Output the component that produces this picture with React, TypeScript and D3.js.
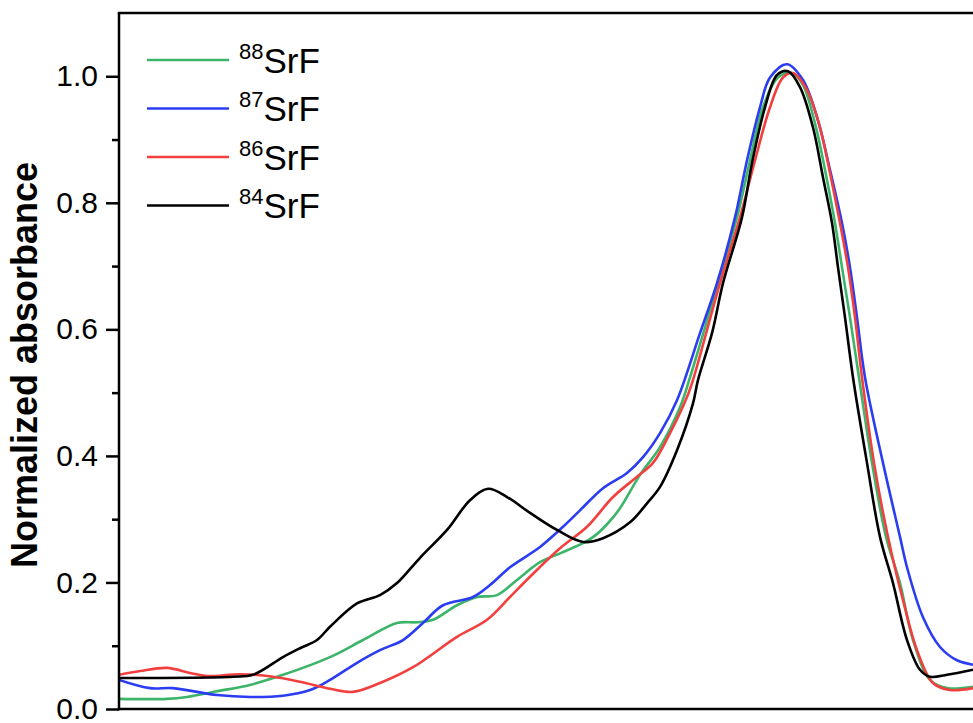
import React, { useRef, useEffect } from "react";
import * as d3 from "d3";

// x: arbitrary detuning units (axis is cut off in the figure), y: normalized absorbance
const sr88: [number, number][] = [
  [0, 0.016], [4.8, 0.016], [6.8, 0.019], [9.8, 0.028], [13.1, 0.038], [16.4, 0.054],
  [21.1, 0.082], [24.4, 0.109], [27.8, 0.136], [29.8, 0.137], [31.4, 0.141], [33.8, 0.164],
  [35.8, 0.177], [37.8, 0.18], [39.8, 0.204], [42.1, 0.232], [44.1, 0.246], [46.4, 0.262],
  [47.6, 0.274], [48.8, 0.292], [50.0, 0.315], [52.1, 0.37], [54.1, 0.414], [56.1, 0.477],
  [57.1, 0.524], [59.9, 0.673], [61.8, 0.777], [63.1, 0.867], [64.4, 0.951], [65.9, 0.998],
  [67.3, 1.005], [68.4, 0.986], [69.7, 0.919], [70.7, 0.844], [71.6, 0.768], [72.3, 0.698],
  [73.1, 0.619], [74.0, 0.524], [75.3, 0.389], [76.7, 0.272], [78.1, 0.199], [79.4, 0.109],
  [81.1, 0.046], [82.8, 0.033], [85.4, 0.035],
];

const sr87: [number, number][] = [
  [0, 0.046], [3.1, 0.033], [5.4, 0.033], [9.8, 0.022], [13.1, 0.019], [16.4, 0.021],
  [19.1, 0.03], [21.1, 0.046], [23.8, 0.073], [26.1, 0.093], [28.4, 0.109], [30.4, 0.136],
  [32.4, 0.164], [35.4, 0.177], [37.1, 0.196], [39.1, 0.224], [42.1, 0.256], [44.4, 0.288],
  [46.1, 0.314], [48.4, 0.349], [50.8, 0.373], [52.4, 0.398], [54.1, 0.436], [55.8, 0.488],
  [58.1, 0.594], [59.8, 0.673], [61.6, 0.777], [62.8, 0.867], [64.1, 0.951], [65.1, 0.998],
  [66.8, 1.019], [68.4, 0.994], [69.9, 0.93], [71.1, 0.852], [72.3, 0.768], [73.1, 0.698],
  [73.8, 0.619], [74.6, 0.524], [76.4, 0.389], [78.1, 0.272], [78.8, 0.224], [80.4, 0.145],
  [82.1, 0.098], [83.8, 0.077], [85.4, 0.07],
];

const sr86: [number, number][] = [
  [0, 0.054], [2.1, 0.06], [4.8, 0.065], [7.1, 0.057], [8.8, 0.052], [12.1, 0.055],
  [15.4, 0.051], [18.1, 0.043], [21.1, 0.032], [23.4, 0.027], [26.1, 0.041], [29.4, 0.066],
  [33.8, 0.114], [36.8, 0.141], [39.1, 0.177], [41.1, 0.209], [44.1, 0.254], [46.8, 0.288],
  [49.4, 0.335], [51.8, 0.367], [53.4, 0.389], [55.1, 0.436], [56.8, 0.493], [57.4, 0.52],
  [60.1, 0.673], [62.1, 0.777], [63.6, 0.867], [65.1, 0.951], [66.4, 0.998], [67.4, 1.005],
  [68.8, 0.978], [70.1, 0.919], [71.1, 0.847], [72.1, 0.768], [72.9, 0.698], [73.6, 0.619],
  [74.3, 0.524], [75.5, 0.389], [76.9, 0.272], [78.4, 0.172], [79.8, 0.093], [81.4, 0.041],
  [83.1, 0.03], [85.4, 0.033],
];

const sr84: [number, number][] = [
  [0, 0.049], [11.4, 0.051], [13.4, 0.054], [16.4, 0.082], [18.1, 0.096], [19.8, 0.109],
  [21.1, 0.13], [23.8, 0.167], [26.1, 0.18], [27.8, 0.199], [30.1, 0.239], [32.8, 0.283],
  [35.1, 0.33], [36.9, 0.348], [38.8, 0.335], [41.1, 0.31], [43.8, 0.283], [46.4, 0.264],
  [48.4, 0.27], [51.1, 0.295], [52.8, 0.325], [54.1, 0.351], [55.8, 0.409], [57.4, 0.483],
  [57.9, 0.52], [59.3, 0.594], [60.4, 0.673], [62.3, 0.777], [63.3, 0.863], [64.6, 0.951],
  [65.8, 1.002], [66.9, 1.008], [68.1, 0.983], [69.4, 0.919], [70.4, 0.84], [71.3, 0.768],
  [71.9, 0.698], [72.6, 0.619], [73.4, 0.524], [74.8, 0.389], [76.1, 0.272], [77.4, 0.199],
  [78.8, 0.109], [80.1, 0.062], [81.1, 0.051], [82.8, 0.054], [85.4, 0.062],
];

const seriesNames = ["88", "87", "86", "84"];
const seriesColors = ["#3cb469", "#2b3df2", "#f2403f", "#000000"];
const seriesData = [sr88, sr87, sr86, sr84];

const majorTicks = [0, 0.2, 0.4, 0.6, 0.8, 1.0];
const minorTicks = [0.1, 0.3, 0.5, 0.7, 0.9];

const App = () => {
  const svgRef = useRef<SVGSVGElement>(null);

  useEffect(() => {
    const W = 973;
    const H = 723;
    const left = 119;
    const top = 13;
    const bottom = 709;

    const svg = d3.select(svgRef.current).attr("width", W).attr("height", H);
    svg.selectAll("*").remove();

    const xScale = d3.scaleLinear().domain([0, 88]).range([left, left + 880]);
    const yScale = d3.scaleLinear().domain([0, 1.1]).range([bottom, top]);

    svg.append("defs").append("clipPath").attr("id", "plot-clip")
      .append("rect").attr("x", left).attr("y", top).attr("width", W - left).attr("height", bottom - top);

    const line = d3.line<[number, number]>()
      .x((d) => xScale(d[0]))
      .y((d) => yScale(d[1]))
      .curve(d3.curveCatmullRom.alpha(0.5));

    const plot = svg.append("g").attr("clip-path", "url(#plot-clip)");
    seriesData.forEach((s, i) => {
      plot.append("path")
        .datum(s)
        .attr("d", line)
        .attr("fill", "none")
        .attr("stroke", seriesColors[i])
        .attr("stroke-width", 2.6)
        .attr("stroke-linejoin", "round");
    });

    // minor ticks
    svg.append("g")
      .attr("transform", `translate(${left}, 0)`)
      .call(d3.axisLeft(yScale).tickValues(minorTicks).tickSize(7).tickFormat(() => ""))
      .call((g) => g.select(".domain").remove())
      .selectAll("line").attr("stroke-width", 2.5);

    // major ticks + labels
    const yAxis = svg.append("g")
      .attr("transform", `translate(${left}, 0)`)
      .call(d3.axisLeft(yScale).tickValues(majorTicks).tickSize(13).tickPadding(8).tickFormat(d3.format(".1f")));
    yAxis.select(".domain").remove();
    yAxis.selectAll("line").attr("stroke-width", 2.5);
    yAxis.selectAll("text")
      .attr("font-family", "'Liberation Sans', Arial, sans-serif")
      .style("font-size", "30px")
      .attr("fill", "#000");

    // frame
    svg.append("line").attr("x1", left).attr("x2", left).attr("y1", top).attr("y2", bottom + 1.25)
      .attr("stroke", "#000").attr("stroke-width", 2.5);
    svg.append("line").attr("x1", left - 1.25).attr("x2", W).attr("y1", top).attr("y2", top)
      .attr("stroke", "#000").attr("stroke-width", 2.5);
    svg.append("line").attr("x1", left - 1.25).attr("x2", W).attr("y1", bottom).attr("y2", bottom)
      .attr("stroke", "#000").attr("stroke-width", 2.5);

    // y label
    svg.append("text")
      .attr("transform", `translate(37, ${(top + bottom) / 2 + 4}) rotate(-90)`)
      .attr("text-anchor", "middle")
      .attr("font-family", "'Liberation Sans', Arial, sans-serif")
      .attr("font-weight", "bold")
      .style("font-size", "36px")
      .text("Normalized absorbance");

    // legend
    const legend = svg.append("g").attr("font-family", "'Liberation Sans', Arial, sans-serif");
    seriesNames.forEach((name, i) => {
      const ly = 60 + i * 48.5;
      legend.append("line")
        .attr("x1", 147).attr("x2", 229).attr("y1", ly).attr("y2", ly)
        .attr("stroke", seriesColors[i]).attr("stroke-width", 2.6);
      const t = legend.append("text").attr("x", 239).attr("y", ly + 12.5);
      t.append("tspan").attr("dy", -14).style("font-size", "22px").text(name);
      t.append("tspan").attr("dy", 14).style("font-size", "35px").text("SrF");
    });
  }, []);

  return (
    <div>
      <svg ref={svgRef} style={{ position: "absolute", top: 0, left: 0, display: "block" }}></svg>
    </div>
  );
};

export default App;
